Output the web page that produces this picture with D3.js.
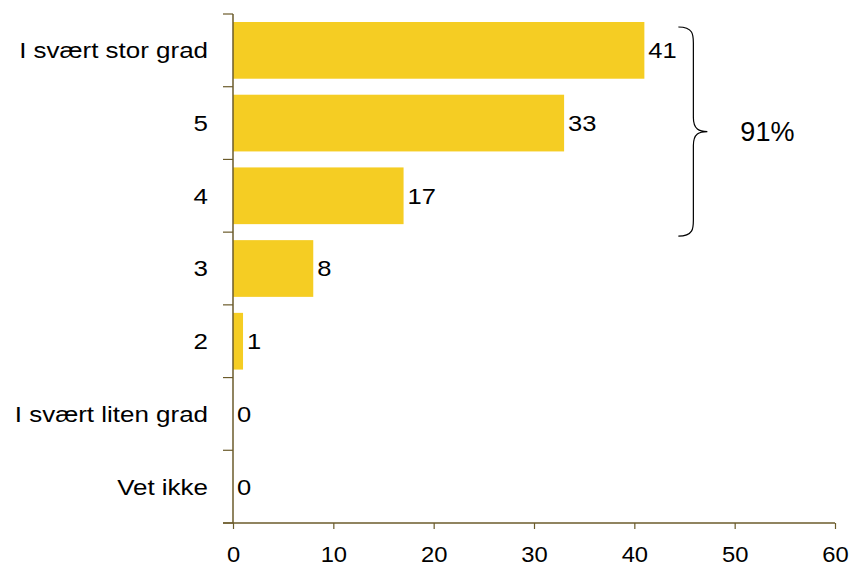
<!DOCTYPE html>
<html>
<head>
<meta charset="utf-8">
<script src="https://cdn.jsdelivr.net/npm/d3@7"></script>
<style>
  html, body { margin: 0; padding: 0; background: #fff; }
  text { font-family: "Liberation Sans", Arial, sans-serif; fill: #000; }
</style>
</head>
<body>
<svg id="chart" width="849" height="566"></svg>
<script>
const categories = ["I svært stor grad", "5", "4", "3", "2", "I svært liten grad", "Vet ikke"];
const values = [41, 33, 17, 8, 1, 0, 0];
const xTicks = [0, 10, 20, 30, 40, 50, 60];
const bracketRange = ["I svært stor grad", "4"];
const bracketLabel = "91%";

const svg = d3.select("#chart");
const margin = { top: 14, right: 14, bottom: 43, left: 233 };
const width = 849 - margin.left - margin.right;
const height = 566 - margin.top - margin.bottom;

const x = d3.scaleLinear().domain([0, 60]).range([0, 602]);
const y = d3.scaleBand().domain(categories).range([0, height]).paddingInner(0.22).paddingOuter(0.11);

const g = svg.append("g").attr("transform", `translate(${margin.left},${margin.top})`);

const axisColor = "#6b5b2b";
const barColor = "#f5cd23";
const fontSize = "22px";
const stretch = 1.18; // slightly wide lettering

// bars
g.selectAll("rect.bar").data(categories).join("rect")
  .attr("class", "bar")
  .attr("x", 0)
  .attr("y", d => y(d))
  .attr("width", (d, i) => x(values[i]))
  .attr("height", y.bandwidth())
  .attr("fill", barColor);

// value labels
g.selectAll("text.val").data(categories).join("text")
  .attr("class", "val")
  .attr("transform", (d, i) => `translate(${x(values[i]) + 4},${y(d) + y.bandwidth() / 2}) scale(1.16,1)`)
  .attr("dy", "0.36em")
  .style("font-size", fontSize)
  .text((d, i) => values[i]);

// y axis: line + ticks at band boundaries
const step = height / categories.length;
g.append("line").attr("x1", 0).attr("x2", 0).attr("y1", 0).attr("y2", height)
  .attr("stroke", axisColor).attr("stroke-width", 1.5);
g.selectAll("line.ytick").data(d3.range(categories.length + 1)).join("line")
  .attr("class", "ytick")
  .attr("x1", -10).attr("x2", 0)
  .attr("y1", i => i * step).attr("y2", i => i * step)
  .attr("stroke", axisColor).attr("stroke-width", 1.2);

// category labels
g.selectAll("text.cat").data(categories).join("text")
  .attr("class", "cat")
  .attr("transform", d => `translate(-25,${y(d) + y.bandwidth() / 2}) scale(${stretch},1)`)
  .attr("dy", "0.36em")
  .attr("text-anchor", "end")
  .style("font-size", fontSize)
  .text(d => d);

// x axis
const xAxis = g.append("g").attr("transform", `translate(0,${height})`)
  .call(d3.axisBottom(x).tickValues(xTicks).tickSize(6).tickPadding(17).tickSizeOuter(0));
xAxis.select(".domain").attr("stroke", axisColor).attr("stroke-width", 1.5)
  .attr("d", `M-10,0H${x(60)}`);
xAxis.selectAll(".tick line").attr("stroke", axisColor).attr("stroke-width", 1.2);
xAxis.selectAll(".tick text").style("font-size", fontSize)
  .style("font-family", "'Liberation Sans', Arial, sans-serif").attr("fill", "#000")
  .attr("transform", "scale(1.08,1)");

// curly brace spanning the top three categories
const bTop = y(bracketRange[0]) + 5;
const bBot = y(bracketRange[1]) + y.bandwidth() + 12;
const bMid = (bTop + bBot) / 2;
const bx = x(41) + 34;
const w = 15, tip = 14;
const bracePath = [
  `M${bx},${bTop}`,
  `C${bx + w},${bTop} ${bx + w},${bTop + 8} ${bx + w},${bTop + 16}`,
  `L${bx + w},${bMid - 14}`,
  `C${bx + w},${bMid - 2} ${bx + w + 6},${bMid} ${bx + w + tip},${bMid}`,
  `C${bx + w + 6},${bMid} ${bx + w},${bMid + 2} ${bx + w},${bMid + 14}`,
  `L${bx + w},${bBot - 16}`,
  `C${bx + w},${bBot - 8} ${bx + w},${bBot} ${bx},${bBot}`
].join(" ");
g.append("path").attr("d", bracePath).attr("fill", "none")
  .attr("stroke", "#000").attr("stroke-width", 1.2);

g.append("text")
  .attr("x", bx + w + tip + 33)
  .attr("y", bMid)
  .attr("dy", "0.36em")
  .style("font-size", "27px")
  .text(bracketLabel);
</script>
</body>
</html>
